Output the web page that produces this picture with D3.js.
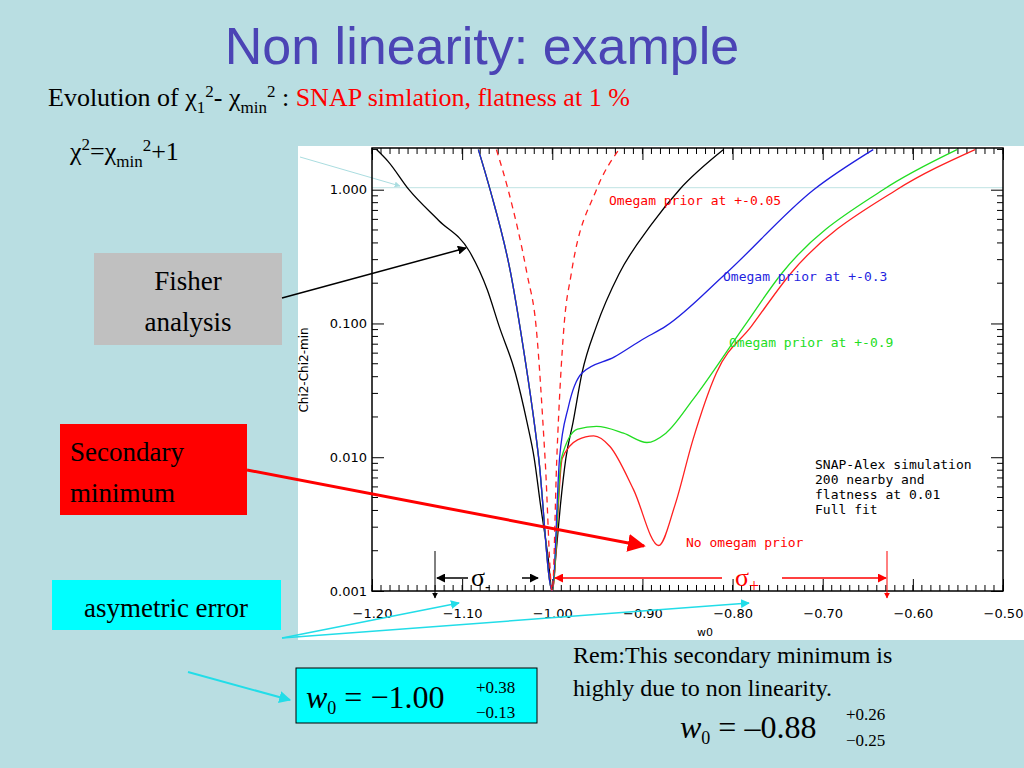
<!DOCTYPE html>
<html><head><meta charset="utf-8">
<script src="https://cdn.jsdelivr.net/npm/d3@7"></script>
<style>body{margin:0;background:#b9dee2}svg{display:block}</style>
</head><body>
<svg id="c" width="1024" height="768"></svg>
<script>
// curves: [w0, log10(chi2 - chi2min)]
const fisher = [[-1.195,0.30],[-1.182,0.21],[-1.159,0],[-1.126,-0.23],[-1.092,-0.46],[-1.072,-0.75],[-1.059,-1.02],
  [-1.041,-1.37],[-1.028,-1.74],[-1.02,-2.01],[-1.013,-2.36],[-1.005,-2.73],[-1.0,-3],
  [-0.996,-2.73],[-0.991,-2.36],[-0.985,-2.01],[-0.977,-1.74],[-0.967,-1.37],[-0.951,-1.02],[-0.926,-0.63],
  [-0.890,-0.26],[-0.859,0],[-0.810,0.30]];
const prior03 = [[-1.082,0.30],[-1.069,0],[-1.046,-0.63],[-1.036,-1.02],[-1.015,-2.01],[-1.0,-3],
  [-0.992,-2.01],[-0.982,-1.62],[-0.967,-1.37],[-0.931,-1.25],[-0.900,-1.12],[-0.874,-1.02],[-0.808,-0.63],
  [-0.710,0],[-0.644,0.30]];
const prior09 = [[-1.082,0.30],[-1.069,0],[-1.046,-0.63],[-1.036,-1.02],[-1.015,-2.01],[-1.0,-3],
  [-0.990,-2.01],[-0.972,-1.79],[-0.951,-1.77],[-0.921,-1.82],[-0.895,-1.89],[-0.874,-1.82],[-0.844,-1.57],
  [-0.787,-1.02],[-0.746,-0.63],[-0.633,0],[-0.551,0.30]];
const noPrior = [[-1.082,0.30],[-1.069,0],[-1.046,-0.63],[-1.036,-1.02],[-1.015,-2.01],[-1.0,-3],
  [-0.989,-2.01],[-0.972,-1.87],[-0.954,-1.84],[-0.936,-1.92],[-0.910,-2.24],[-0.882,-2.66],[-0.864,-2.36],
  [-0.844,-1.87],[-0.818,-1.37],[-0.779,-1.02],[-0.736,-0.63],[-0.618,0],[-0.531,0.30]];
const prior005 = [[-1.062,0.30],[-1.049,0],[-1.028,-0.63],[-1.018,-1.02],[-1.008,-2.01],[-1.0,-3],
  [-0.995,-2.01],[-0.987,-1.02],[-0.979,-0.63],[-0.951,0],[-0.926,0.30]];
const xTicks = [-1.2,-1.1,-1.0,-0.9,-0.8,-0.7,-0.6,-0.5];
const yTicks = [0.001,0.01,0.1,1];

const svg = d3.select("#c");
const L=372, R=1003, T=148, B=591;
const x = d3.scaleLinear().domain([-1.2,-0.5]).range([L,R]);
const y = d3.scaleLog().domain([0.001, 2.05]).range([B,T]);

// title + slide text
svg.append("text").attr("x",482).attr("y",64).attr("text-anchor","middle")
  .attr("font-family","Liberation Sans").attr("font-size",52).attr("fill","#4b44b5").text("Non linearity: example");
const sub = svg.append("text").attr("x",48).attr("y",106).attr("font-family","Liberation Serif").attr("font-size",26);
sub.append("tspan").text("Evolution of χ");
sub.append("tspan").attr("font-size",17).attr("dy",7).text("1");
sub.append("tspan").attr("font-size",17).attr("dy",-16).text("2");
sub.append("tspan").attr("dy",9).text("- χ");
sub.append("tspan").attr("font-size",17).attr("dy",7).text("min");
sub.append("tspan").attr("font-size",17).attr("dy",-16).text("2");
sub.append("tspan").attr("dy",9).text(" : ");
sub.append("tspan").attr("fill","red").text("SNAP simlation, flatness at 1 %");
const eq = svg.append("text").attr("x",70).attr("y",160).attr("font-family","Liberation Serif").attr("font-size",26);
eq.append("tspan").text("χ");
eq.append("tspan").attr("font-size",17).attr("dy",-10).text("2");
eq.append("tspan").attr("dy",10).text("=χ");
eq.append("tspan").attr("font-size",17).attr("dy",7).text("min");
eq.append("tspan").attr("font-size",17).attr("dy",-16).text("2");
eq.append("tspan").attr("dy",9).text("+1");

// plot panel
svg.append("rect").attr("x",298).attr("y",146).attr("width",726).attr("height",494).attr("fill","#fff");
const defs = svg.append("defs");
[["ab","#000"],["ar","red"],["ac","#22dde8"],["ag","#aadde0"]].forEach(([id,c])=>{
  defs.append("marker").attr("id",id).attr("viewBox","0 0 10 10").attr("refX",9).attr("refY",5)
    .attr("markerWidth",6).attr("markerHeight",6).attr("orient","auto-start-reverse")
    .append("path").attr("d","M0,0L10,5L0,10z").attr("fill",c);
});
// chi2 = chi2min + 1 guide
svg.append("line").attr("x1",300).attr("y1",157).attr("x2",400).attr("y2",186).attr("stroke","#aadde0").attr("marker-end","url(#ag)");
svg.append("line").attr("x1",L).attr("x2",R).attr("y1",y(1)-2).attr("y2",y(1)-2).attr("stroke","#bfe3e3");

// frame and ticks
svg.append("rect").attr("x",L).attr("y",T).attr("width",R-L).attr("height",B-T).attr("fill","none").attr("stroke","#000").attr("stroke-width",1.5);
const fmt = d3.format(".2f");
svg.append("g").attr("transform",`translate(0,${B})`)
  .call(d3.axisBottom(x).tickValues(xTicks).tickSize(-12).tickFormat(fmt))
  .call(g=>g.select(".domain").remove())
  .call(g=>g.selectAll("text").attr("dy",24).attr("font-family","DejaVu Sans").attr("font-size",13));
svg.append("g").attr("transform",`translate(0,${T})`)
  .call(d3.axisTop(x).tickValues(xTicks).tickSize(-12).tickFormat(""))
  .call(g=>g.select(".domain").remove());
const xMinor = d3.range(-1.2,-0.499,0.01);
[[B,-6],[T,6]].forEach(([yy,d])=>svg.append("g").selectAll("line").data(xMinor).join("line")
  .attr("x1",v=>x(v)).attr("x2",v=>x(v)).attr("y1",yy).attr("y2",yy+d).attr("stroke","#000"));
svg.append("g").attr("transform",`translate(${L},0)`)
  .call(d3.axisLeft(y).tickValues(yTicks).tickSize(-12).tickFormat(d3.format(".3f")))
  .call(g=>g.select(".domain").remove())
  .call(g=>g.selectAll("text").attr("dx",-2).attr("font-family","DejaVu Sans").attr("font-size",13));
svg.append("g").attr("transform",`translate(${R},0)`)
  .call(d3.axisRight(y).tickValues(yTicks).tickSize(-12).tickFormat(""))
  .call(g=>g.select(".domain").remove());
const yMinor = [];
[0.001,0.01,0.1,1].forEach(b=>d3.range(2,10).forEach(k=>{ if(b*k<=2.05) yMinor.push(b*k); }));
[[L,6],[R,-6]].forEach(([xx,d])=>svg.append("g").selectAll("line").data(yMinor).join("line")
  .attr("x1",xx).attr("x2",xx+d).attr("y1",v=>y(v)).attr("y2",v=>y(v)).attr("stroke","#000"));
svg.append("text").attr("transform","translate(308,370) rotate(-90)").attr("text-anchor","middle")
  .attr("font-family","DejaVu Sans").attr("font-size",12).text("Chi2-Chi2-min");
svg.append("text").attr("x",705).attr("y",636).attr("text-anchor","middle")
  .attr("font-family","DejaVu Sans").attr("font-size",11).text("w0");

// curves
const line = d3.line().x(d=>x(d[0])).y(d=>y(Math.pow(10,d[1]))).curve(d3.curveMonotoneX);
defs.append("clipPath").attr("id","pc").append("rect").attr("x",L).attr("y",T).attr("width",R-L).attr("height",B-T);
const pg = svg.append("g").attr("clip-path","url(#pc)");
[[fisher,"#000",null],[noPrior,"#ff2020",null],[prior09,"#22dd22",null],[prior03,"#1f1fe0",null],[prior005,"#ff2020","6,5"]]
  .forEach(([d,c,da])=>pg.append("path").datum(d).attr("d",line).attr("fill","none").attr("stroke",c)
    .attr("stroke-width",1.3).attr("stroke-dasharray",da));

const lab=(t,xx,yy,c)=>svg.append("text").attr("x",xx).attr("y",yy).attr("font-family","DejaVu Sans Mono")
  .attr("font-size",13).attr("fill",c).text(t);
lab("Omegam prior at +-0.05",609,205,"red");
lab("Omegam prior at +-0.3",723,281,"#1f1fe0");
lab("Omegam prior at +-0.9",729,347,"#22dd22");
lab("No omegam prior",686,547,"red");
["SNAP-Alex simulation","200 nearby and","flatness at 0.01","Full fit"].forEach((t,i)=>lab(t,815,469+i*15,"#000"));

// sigma annotations
svg.append("line").attr("x1",435).attr("y1",551).attr("x2",435).attr("y2",598).attr("stroke","#000").attr("marker-end","url(#ab)");
svg.append("line").attr("x1",468).attr("y1",578).attr("x2",437).attr("y2",578).attr("stroke","#000").attr("stroke-width",1.5).attr("marker-end","url(#ab)");
svg.append("line").attr("x1",522).attr("y1",578).attr("x2",538).attr("y2",578).attr("stroke","#000").attr("stroke-width",1.5).attr("marker-end","url(#ab)");
const sm = svg.append("text").attr("x",471).attr("y",586).attr("font-family","Liberation Serif").attr("font-size",26);
sm.append("tspan").text("σ"); sm.append("tspan").attr("font-size",16).attr("dy",6).text("-");
svg.append("line").attr("x1",887).attr("y1",551).attr("x2",887).attr("y2",598).attr("stroke","red").attr("marker-end","url(#ar)");
svg.append("line").attr("x1",722).attr("y1",578).attr("x2",555).attr("y2",578).attr("stroke","red").attr("stroke-width",1.5).attr("marker-end","url(#ar)");
svg.append("line").attr("x1",782).attr("y1",578).attr("x2",886).attr("y2",578).attr("stroke","red").attr("stroke-width",1.5).attr("marker-end","url(#ar)");
const sp = svg.append("text").attr("x",735).attr("y",586).attr("font-family","Liberation Serif").attr("font-size",26).attr("fill","red");
sp.append("tspan").text("σ"); sp.append("tspan").attr("font-size",18).attr("dy",6).text("+");

// boxes
const box=(x0,y0,w,h,f,lines,tx,anchor)=>{
  svg.append("rect").attr("x",x0).attr("y",y0).attr("width",w).attr("height",h).attr("fill",f);
  lines.forEach((t,i)=>svg.append("text").attr("x",tx).attr("y",y0+37+i*41).attr("text-anchor",anchor)
    .attr("font-family","Liberation Serif").attr("font-size",27).text(t));
};
box(94,253,188,92,"#c0c0c0",["Fisher","analysis"],188,"middle");
box(60,424,187,91,"#ff0000",["Secondary","minimum"],70,"start");
box(52,580,229,50,"#00ffff",["asymetric error"],166,"middle");

// pointers
svg.append("line").attr("x1",282).attr("y1",298).attr("x2",466).attr("y2",248).attr("stroke","#000").attr("stroke-width",1.5).attr("marker-end","url(#ab)");
svg.append("line").attr("x1",247).attr("y1",470).attr("x2",644).attr("y2",546).attr("stroke","red").attr("stroke-width",3).attr("marker-end","url(#ar)");
svg.append("line").attr("x1",282).attr("y1",638).attr("x2",459).attr("y2",603).attr("stroke","#22dde8").attr("stroke-width",1.5).attr("marker-end","url(#ac)");
svg.append("line").attr("x1",282).attr("y1",638).attr("x2",749).attr("y2",603).attr("stroke","#22dde8").attr("stroke-width",1.5).attr("marker-end","url(#ac)");
svg.append("line").attr("x1",188).attr("y1",672).attr("x2",290).attr("y2",700).attr("stroke","#22dde8").attr("stroke-width",2).attr("marker-end","url(#ac)");

// result formulas
svg.append("rect").attr("x",296).attr("y",668).attr("width",241).attr("height",55).attr("fill","#00ffff").attr("stroke","#000");
const f1 = svg.append("text").attr("x",306).attr("y",708).attr("font-family","Liberation Serif").attr("font-size",32);
f1.append("tspan").attr("font-style","italic").text("w");
f1.append("tspan").attr("font-size",18).attr("dy",6).text("0");
f1.append("tspan").attr("dy",-6).text(" = −1.00");
svg.append("text").attr("x",476).attr("y",693).attr("font-family","Liberation Serif").attr("font-size",17).text("+0.38");
svg.append("text").attr("x",476).attr("y",718).attr("font-family","Liberation Serif").attr("font-size",17).text("−0.13");
["Rem:This secondary minimum is","highly due to non linearity."].forEach((t,i)=>
  svg.append("text").attr("x",573).attr("y",663+i*33).attr("font-family","Liberation Serif").attr("font-size",24).text(t));
const f2 = svg.append("text").attr("x",680).attr("y",738).attr("font-family","Liberation Serif").attr("font-size",32);
f2.append("tspan").attr("font-style","italic").text("w");
f2.append("tspan").attr("font-size",18).attr("dy",6).text("0");
f2.append("tspan").attr("dy",-6).text(" = –0.88");
svg.append("text").attr("x",846).attr("y",720).attr("font-family","Liberation Serif").attr("font-size",17).text("+0.26");
svg.append("text").attr("x",846).attr("y",746).attr("font-family","Liberation Serif").attr("font-size",17).text("−0.25");
</script>
</body></html>
